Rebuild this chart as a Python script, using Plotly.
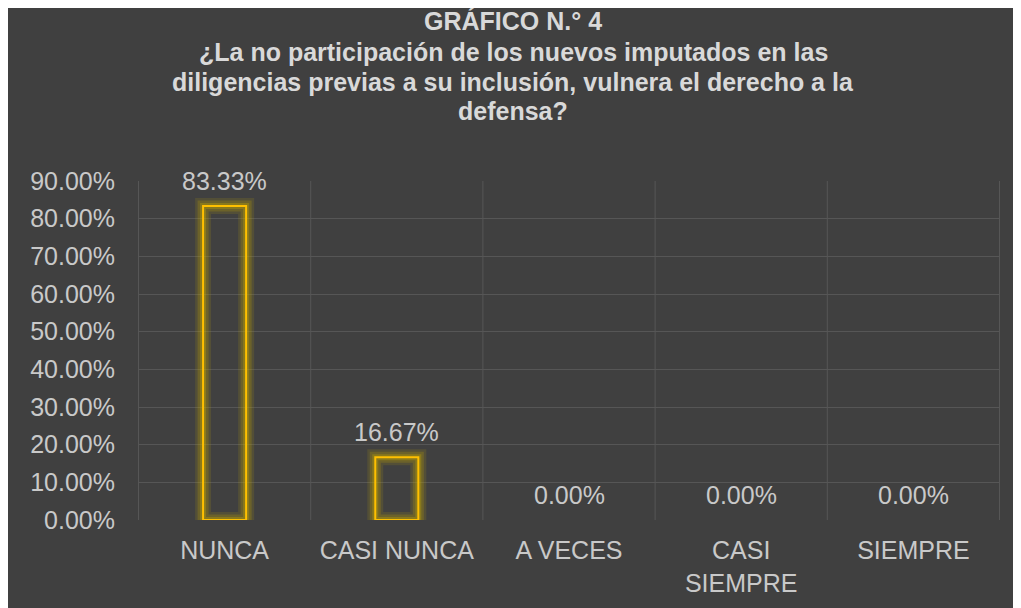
import plotly.graph_objects as go

categorias = ["NUNCA", "CASI NUNCA", "A VECES", "CASI<br>SIEMPRE", "SIEMPRE"]
porcentajes = [0.8333, 0.1667, 0.0, 0.0, 0.0]
etiquetas = ["83.33%", "16.67%", "0.00%", "0.00%", "0.00%"]

titulo = [
    "GRÁFICO N.° 4",
    "¿La no participación de los nuevos imputados en las",
    "diligencias previas a su inclusión, vulnera el derecho a la",
    "defensa?",
]

W, H = 1013, 600
ml, mr, mt, mb = 130, 21, 173, 88
pw, ph = W - ml - mr, H - mt - mb
FONT = "Liberation Sans, Arial"
TXT = "#C9C9C9"


def paper_y(px):
    # figure pixel (from top) -> paper coordinate
    return (H - mb - px) / ph


def paper_x(px):
    return (px - ml) / pw


fig = go.Figure()

# soft glow around the bars (no line where the value is zero)
for w, op in [(16, 0.14), (11, 0.22), (6, 0.32)]:
    fig.add_trace(go.Bar(
        x=categorias, y=porcentajes, width=0.25,
        marker=dict(color="rgba(0,0,0,0)",
                    line=dict(color=f"rgba(200,170,0,{op})",
                              width=[w if v > 0 else 0 for v in porcentajes])),
        hoverinfo="skip", showlegend=False,
    ))

fig.add_trace(go.Bar(
    x=categorias, y=porcentajes, width=0.25,
    marker=dict(color="rgba(0,0,0,0)",
                line=dict(color="#FFC000",
                          width=[2 if v > 0 else 0 for v in porcentajes])),
    showlegend=False,
))

annotations = []
for cat, v, t in zip(categorias, porcentajes, etiquetas):
    annotations.append(dict(x=cat, y=v, xref="x", yref="y", text=t,
                            showarrow=False, yanchor="bottom", yshift=9,
                            font=dict(family=FONT, size=25, color=TXT)))

for line, ypx in zip(titulo, [13, 44, 74, 103]):
    annotations.append(dict(x=paper_x(505), y=paper_y(ypx), xref="paper", yref="paper",
                            text=f"<b>{line}</b>", showarrow=False,
                            xanchor="center", yanchor="middle",
                            font=dict(family=FONT, size=25, color="#D9D9D9")))

fig.update_layout(
    width=W, height=H,
    barmode="overlay",
    paper_bgcolor="#404040",
    plot_bgcolor="#404040",
    margin=dict(l=ml, r=mr, t=mt, b=mb, pad=0),
    font=dict(family=FONT, size=25, color=TXT),
    annotations=annotations,
)

fig.update_yaxes(range=[0, 0.9], dtick=0.1, tickformat=".2%",
                 showgrid=True, gridcolor="#565656", gridwidth=1,
                 zeroline=False, showline=False, ticks="",
                 ticklabelstandoff=22,
                 tickfont=dict(family=FONT, size=25, color=TXT))
fig.update_xaxes(showgrid=False, ticks="", showline=False,
                 ticklabelstandoff=13,
                 tickfont=dict(family=FONT, size=25, color=TXT))

# vertical grid at category boundaries
for i in range(len(categorias) + 1):
    fig.add_shape(type="line", xref="x", yref="paper", x0=i - 0.5, x1=i - 0.5,
                  y0=0, y1=1, line=dict(color="#565656", width=1), layer="below")

fig.write_html("out.html")
